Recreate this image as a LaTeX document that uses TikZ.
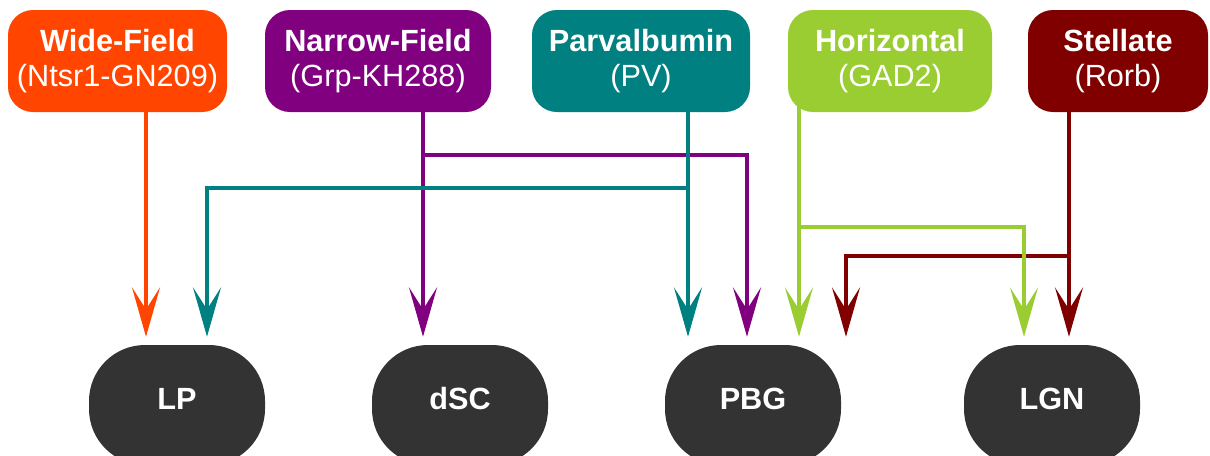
\documentclass[tikz,border=0pt]{standalone}
\usepackage{fontspec}
\setmainfont{Liberation Sans}
\usetikzlibrary{arrows.meta,calc}
\definecolor{wfcol}{RGB}{255,69,0}
\definecolor{nfcol}{RGB}{128,0,128}
\definecolor{pvcol}{RGB}{0,128,128}
\definecolor{hzcol}{RGB}{154,205,50}
\definecolor{stcol}{RGB}{128,0,0}
\definecolor{areacol}{RGB}{51,51,51}
\tikzset{
  cell/.style={fill=#1, text=white, rounded corners=18.75pt, minimum height=76.5pt,
    align=center, inner sep=0pt, font=\fontsize{23}{26}\selectfont},
  area/.style={fill=areacol, text=white, rounded corners=42pt, minimum height=90pt,
    minimum width=132pt, inner sep=0pt, text height=10pt, text depth=4pt,
    font=\fontsize{23}{27}\selectfont\bfseries},
  proj/.style={draw=#1, line width=3pt, shorten >=6pt,
    -{Stealth[length=37pt,width=21pt,inset=16.5pt]}},
}
\begin{document}
\begin{tikzpicture}[x=0.75pt,y=0.75pt,yscale=-1,xscale=1]
        \clip (0,0) rectangle (1210,455);
        % cell types
        \node[cell=wfcol, minimum width=164.25pt] (wf) at (117.5,61) {\textbf{Wide-Field}\\(Ntsr1-GN209)};
        \node[cell=nfcol, minimum width=169.5pt] (nf) at (378,61) {\textbf{Narrow-Field}\\(Grp-KH288)};
        \node[cell=pvcol, minimum width=163.5pt] (pv) at (641,61) {\textbf{Parvalbumin}\\(PV)};
        \node[cell=hzcol, minimum width=153pt] (hz) at (890,61) {\textbf{Horizontal}\\(GAD2)};
        \node[cell=stcol, minimum width=135pt] (st) at (1118,61) {\textbf{Stellate}\\(Rorb)};
        % target areas
        \node[area] (lp) at (177,405) {LP};
        \node[area] (dsc) at (460,405) {dSC};
        \node[area] (pbg) at (753,405) {PBG};
        \node[area] (lgn) at (1052,405) {LGN};
        % projections
        \draw[proj=wfcol] ($(wf.south)+(28.5,0)$) -- ($(lp.north)+(-31,0)$);
        \draw[proj=nfcol] ($(nf.south)+(45,0)$) -- ($(dsc.north)+(-37,0)$);
        \draw[proj=nfcol] ($(nf.south)+(45,43)$) -| ($(pbg.north)+(-6,0)$);
        \draw[proj=pvcol] ($(pv.south)+(47,0)$) -- ($(pbg.north)+(-65,0)$);
        \draw[proj=pvcol] ($(pv.south)+(47,76)$) -| ($(lp.north)+(30,0)$);
        \draw[proj=stcol] ($(st.south)+(-49,0)$) -- ($(lgn.north)+(17,0)$);
        \draw[proj=stcol] ($(st.south)+(-49,144)$) -| ($(pbg.north)+(93,0)$);
        \draw[proj=hzcol] ($(hz.south)+(-91,-12)$) -- ($(pbg.north)+(46,0)$);
        \draw[proj=hzcol] ($(hz.south)+(-91,115)$) -| ($(lgn.north)+(-28,0)$);
\end{tikzpicture}
\end{document}
